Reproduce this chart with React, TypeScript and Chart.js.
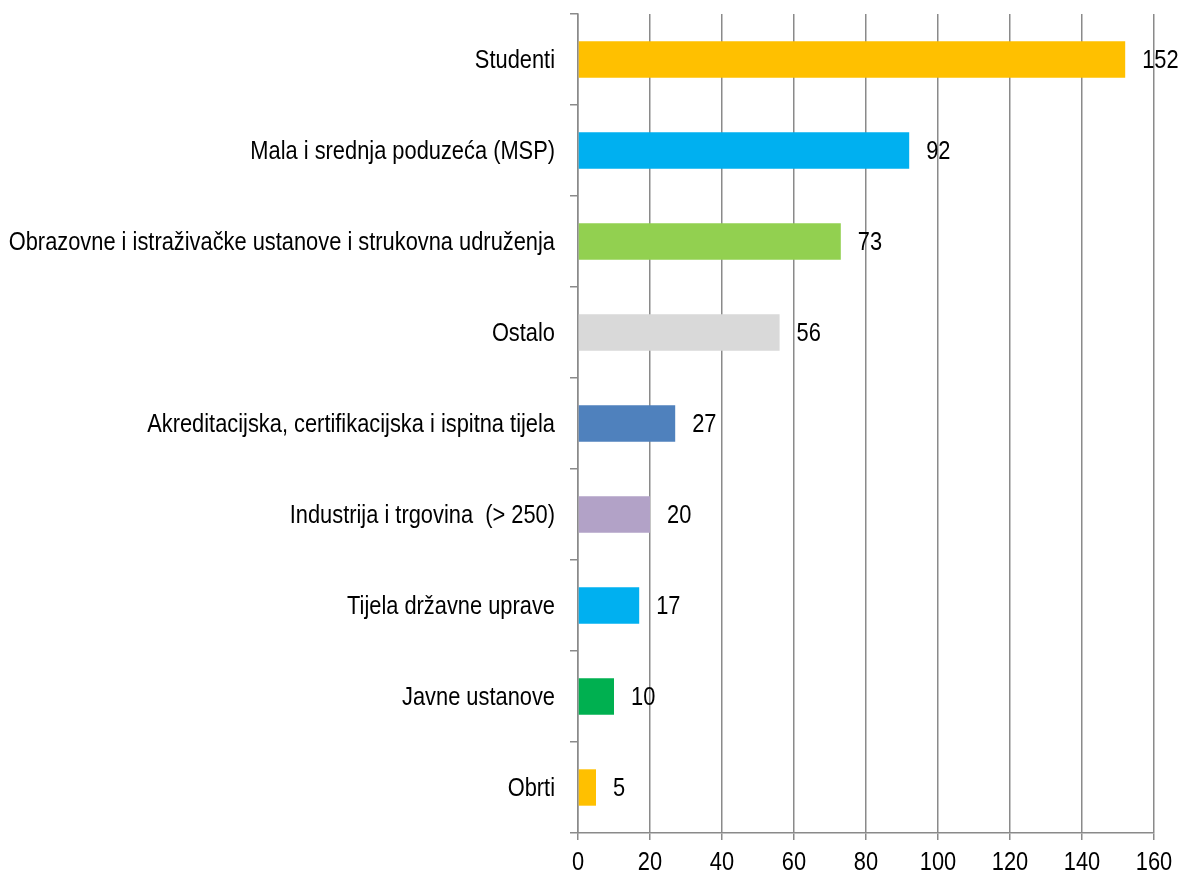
import React, { useEffect, useRef } from "react";
import { Chart, registerables } from "chart.js";

Chart.register(...registerables);

const categories = [
  "Studenti",
  "Mala i srednja poduzeća (MSP)",
  "Obrazovne i istraživačke ustanove i strukovna udruženja",
  "Ostalo",
  "Akreditacijska, certifikacijska i ispitna tijela",
  "Industrija i trgovina  (> 250)",
  "Tijela državne uprave",
  "Javne ustanove",
  "Obrti",
];
const values = [152, 92, 73, 56, 27, 20, 17, 10, 5];
const barColors = [
  "#FFC000",
  "#00B0F0",
  "#92D050",
  "#D9D9D9",
  "#4F81BD",
  "#B2A2C7",
  "#00B0F0",
  "#00B050",
  "#FFC000",
];
const xMin = 0;
const xMax = 160;
const xStep = 20;

const FONT = "'Liberation Sans', Arial, sans-serif";
const FONT_SIZE = 26;
const NARROW = 0.84;
const GRID = "#8a8a8a";

function narrowText(ctx: CanvasRenderingContext2D, text: string, x: number, y: number, align: CanvasTextAlign) {
  ctx.save();
  ctx.translate(x, y);
  ctx.scale(NARROW, 1);
  ctx.textAlign = align;
  ctx.fillText(text, 0, 0);
  ctx.restore();
}

const textPlugin = {
  id: "narrowTexts",
  afterDraw(chart: any) {
    const ctx = chart.ctx as CanvasRenderingContext2D;
    const area = chart.chartArea;
    const meta = chart.getDatasetMeta(0);
    const xs = chart.scales.x;
    const ys = chart.scales.y;
    ctx.save();
    ctx.font = `${FONT_SIZE}px ${FONT}`;
    ctx.fillStyle = "#000";
    ctx.textBaseline = "middle";
    categories.forEach((c, i) => {
      narrowText(ctx, c, area.left - 23, ys.getPixelForValue(i) + 1, "right");
    });
    meta.data.forEach((bar: any, i: number) => {
      narrowText(ctx, String(values[i]), bar.x + 17, bar.y + 1, "left");
    });
    xs.ticks.forEach((t: any) => {
      narrowText(ctx, String(t.value), xs.getPixelForValue(t.value), area.bottom + 30, "center");
    });
    ctx.restore();
  },
};

export default function App() {
  const ref = useRef<HTMLCanvasElement>(null);
  useEffect(() => {
    document.body.style.margin = "0";
    const chart = new Chart(ref.current!, {
      type: "bar",
      data: {
        labels: categories,
        datasets: [
          {
            data: values,
            backgroundColor: barColors,
            barPercentage: 0.5,
            categoryPercentage: 0.8,
          },
        ],
      },
      options: {
        indexAxis: "y",
        animation: false,
        responsive: false,
        layout: { padding: { top: 14, right: 25, left: 0, bottom: 0 } },
        plugins: { legend: { display: false }, tooltip: { enabled: false } },
        scales: {
          x: {
            min: xMin,
            max: xMax,
            ticks: { stepSize: xStep, display: false },
            grid: { color: GRID, lineWidth: 1.5, tickLength: 7 },
            border: { display: true, color: GRID, width: 1.5 },
            afterFit(scale: any) {
              scale.height = 43;
            },
          },
          y: {
            ticks: { display: false, autoSkip: false },
            grid: {
              display: true,
              drawOnChartArea: false,
              color: GRID,
              lineWidth: 1.5,
              tickLength: 8,
              offset: true,
            },
            border: { display: true, color: GRID, width: 1.5 },
            afterFit(scale: any) {
              scale.width = 578;
            },
          },
        },
      },
      plugins: [textPlugin],
    });
    return () => chart.destroy();
  }, []);
  return (
    <div style={{ position: "absolute", left: 0, top: 0, width: 1179, height: 876, background: "#fff" }}>
      <canvas ref={ref} width={1179} height={876} />
    </div>
  );
}
